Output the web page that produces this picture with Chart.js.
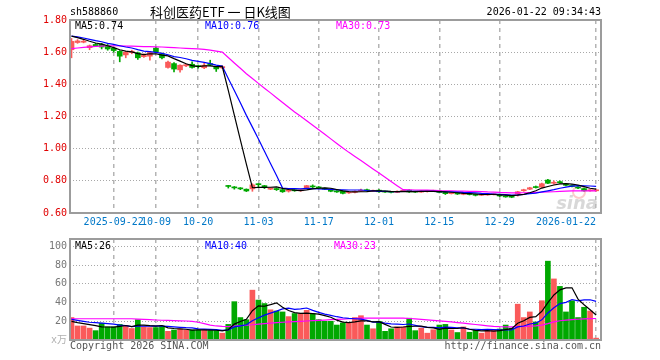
<!DOCTYPE html>
<html>
<head>
<meta charset="utf-8">
<script src="https://cdn.jsdelivr.net/npm/chart.js@4.4.1/dist/chart.umd.min.js"></script>
<style>
    body { margin: 0; background: #fff; width: 660px; height: 360px; position: relative; overflow: hidden;
           font-family: 'DejaVu Sans Mono', 'Noto Sans CJK SC', monospace; font-size: 10px; color: #000; }
    canvas { position: absolute; left: 0; }
    .t { position: absolute; white-space: nowrap; line-height: 12px; z-index: 2; }
</style>
</head>
<body>
<div class="t" style="left:70px;top:6px">sh588860</div>
<div class="t" style="left:150px;top:4px;font-family:'Noto Sans CJK SC';font-size:13px;line-height:16px">科创医药ETF 一 日K线图</div>
<div class="t" style="right:59px;top:6px">2026-01-22 09:34:43</div>

<div class="t" style="left:75px;top:20px;color:#000">MA5:0.74</div>
<div class="t" style="left:205px;top:20px;color:#0000ff">MA10:0.76</div>
<div class="t" style="left:336px;top:20px;color:#ff00ff">MA30:0.73</div>

<div class="t" style="left:75px;top:240px;color:#000">MA5:26</div>
<div class="t" style="left:205px;top:240px;color:#0000ff">MA10:40</div>
<div class="t" style="left:334px;top:240px;color:#ff00ff">MA30:23</div>

<div class="t" style="left:70px;top:340px;color:#555">Copyright 2026 SINA.COM</div>
<div class="t" style="right:59px;top:340px;color:#555">http://finance.sina.com.cn</div>

<canvas id="chartK" width="660" height="230" style="top:0"></canvas>
<canvas id="chartVol" width="660" height="130" style="top:230px"></canvas>

<script>
// Datos diarios (indice 0 = primera vela)
const open = [
    1.615, 1.660, 1.662, 1.628, 1.648, 1.650, 1.640, 1.625, 1.605, 1.583,
    1.598, 1.595, 1.572, 1.575, 1.625, 1.590, 1.505, 1.529, 1.490, 1.515,
    1.525, 1.515, 1.503, 1.529, 1.509, 1.502, 0.770, 0.762, 0.756, 0.748,
    0.750, 0.780, 0.770, 0.748, 0.752, 0.745, 0.736, 0.742, 0.738, 0.755,
    0.768, 0.762, 0.752, 0.748, 0.738, 0.735, 0.725, 0.728, 0.735, 0.745,
    0.735, 0.742, 0.735, 0.732, 0.728, 0.735, 0.742, 0.733, 0.730, 0.733,
    0.735, 0.738, 0.728, 0.720, 0.725, 0.716, 0.720, 0.716, 0.710, 0.712,
    0.714, 0.716, 0.706, 0.702, 0.718, 0.738, 0.748, 0.762, 0.760, 0.805,
    0.785, 0.795, 0.780, 0.770, 0.762, 0.752, 0.738, 0.738
];
const high = [
    1.685, 1.678, 1.676, 1.645, 1.655, 1.655, 1.648, 1.630, 1.610, 1.605,
    1.612, 1.600, 1.590, 1.605, 1.632, 1.595, 1.545, 1.535, 1.522, 1.528,
    1.540, 1.520, 1.530, 1.550, 1.512, 1.515, 0.772, 0.765, 0.758, 0.750,
    0.782, 0.782, 0.772, 0.758, 0.755, 0.747, 0.748, 0.745, 0.748, 0.772,
    0.775, 0.765, 0.755, 0.750, 0.740, 0.738, 0.732, 0.738, 0.748, 0.748,
    0.742, 0.745, 0.737, 0.735, 0.738, 0.745, 0.745, 0.736, 0.738, 0.738,
    0.742, 0.740, 0.730, 0.728, 0.727, 0.724, 0.722, 0.718, 0.716, 0.718,
    0.720, 0.718, 0.708, 0.705, 0.735, 0.748, 0.760, 0.768, 0.786, 0.810,
    0.800, 0.800, 0.785, 0.775, 0.765, 0.755, 0.745, 0.745
];
const low = [
    1.565, 1.655, 1.658, 1.615, 1.635, 1.620, 1.612, 1.600, 1.540, 1.565,
    1.590, 1.555, 1.568, 1.550, 1.598, 1.558, 1.500, 1.477, 1.475, 1.510,
    1.500, 1.500, 1.498, 1.515, 1.480, 1.498, 0.755, 0.748, 0.745, 0.733,
    0.735, 0.760, 0.752, 0.745, 0.740, 0.728, 0.730, 0.735, 0.735, 0.752,
    0.758, 0.752, 0.745, 0.732, 0.728, 0.718, 0.722, 0.725, 0.733, 0.735,
    0.732, 0.728, 0.728, 0.725, 0.726, 0.733, 0.728, 0.728, 0.728, 0.730,
    0.733, 0.725, 0.715, 0.718, 0.715, 0.713, 0.712, 0.706, 0.708, 0.710,
    0.712, 0.702, 0.698, 0.695, 0.705, 0.735, 0.745, 0.755, 0.758, 0.782,
    0.780, 0.785, 0.768, 0.762, 0.752, 0.735, 0.735, 0.735
];
const close = [
    1.667, 1.670, 1.668, 1.640, 1.640, 1.632, 1.620, 1.610, 1.575, 1.600,
    1.606, 1.565, 1.580, 1.598, 1.602, 1.565, 1.538, 1.495, 1.519, 1.522,
    1.505, 1.510, 1.519, 1.519, 1.496, 1.510, 0.765, 0.756, 0.750, 0.737,
    0.775, 0.776, 0.758, 0.755, 0.745, 0.732, 0.740, 0.738, 0.742, 0.770,
    0.762, 0.756, 0.748, 0.735, 0.731, 0.722, 0.730, 0.735, 0.742, 0.738,
    0.740, 0.732, 0.730, 0.728, 0.735, 0.742, 0.731, 0.730, 0.735, 0.736,
    0.738, 0.728, 0.720, 0.725, 0.718, 0.720, 0.715, 0.710, 0.714, 0.716,
    0.718, 0.706, 0.700, 0.698, 0.732, 0.745, 0.757, 0.758, 0.782, 0.785,
    0.790, 0.788, 0.772, 0.765, 0.755, 0.738, 0.742, 0.741
];
const ma5 = [
    1.700, 1.690, 1.680, 1.668, 1.657, 1.650, 1.640, 1.628, 1.615, 1.607,
    1.602, 1.591, 1.585, 1.590, 1.590, 1.582, 1.577, 1.560, 1.544, 1.528,
    1.516, 1.510, 1.515, 1.515, 1.510, 1.511, 1.362, 1.209, 1.055, 0.904,
    0.757, 0.759, 0.759, 0.760, 0.762, 0.753, 0.746, 0.742, 0.739, 0.744,
    0.750, 0.754, 0.756, 0.754, 0.746, 0.738, 0.733, 0.731, 0.732, 0.733,
    0.737, 0.737, 0.736, 0.734, 0.733, 0.733, 0.733, 0.733, 0.735, 0.735,
    0.734, 0.733, 0.731, 0.729, 0.726, 0.722, 0.720, 0.718, 0.715, 0.715,
    0.715, 0.713, 0.711, 0.708, 0.711, 0.716, 0.726, 0.738, 0.755, 0.765,
    0.774, 0.781, 0.783, 0.780, 0.774, 0.764, 0.754, 0.748
];
const ma10 = [
    1.700, 1.695, 1.688, 1.680, 1.672, 1.665, 1.655, 1.648, 1.640, 1.632,
    1.626, 1.616, 1.607, 1.603, 1.599, 1.592, 1.584, 1.572, 1.567, 1.559,
    1.549, 1.543, 1.537, 1.529, 1.519, 1.513, 1.436, 1.362, 1.285, 1.207,
    1.134, 1.060, 0.984, 0.908, 0.833, 0.755, 0.752, 0.751, 0.750, 0.753,
    0.752, 0.750, 0.749, 0.747, 0.745, 0.744, 0.743, 0.743, 0.743, 0.740,
    0.738, 0.735, 0.734, 0.733, 0.733, 0.735, 0.735, 0.735, 0.734, 0.734,
    0.734, 0.733, 0.732, 0.732, 0.730, 0.728, 0.727, 0.725, 0.722, 0.720,
    0.718, 0.716, 0.714, 0.712, 0.713, 0.715, 0.720, 0.724, 0.731, 0.738,
    0.745, 0.754, 0.761, 0.767, 0.770, 0.769, 0.768, 0.766
];
const ma30 = [
    1.622, 1.626, 1.630, 1.633, 1.636, 1.638, 1.640, 1.640, 1.639, 1.638,
    1.637, 1.636, 1.635, 1.634, 1.633, 1.632, 1.630, 1.628, 1.626, 1.624,
    1.622, 1.620, 1.617, 1.613, 1.607, 1.600, 1.567, 1.533, 1.500, 1.466,
    1.436, 1.406, 1.376, 1.347, 1.317, 1.287, 1.257, 1.228, 1.201, 1.173,
    1.145, 1.118, 1.090, 1.061, 1.032, 1.004, 0.977, 0.952, 0.926, 0.900,
    0.874, 0.848, 0.822, 0.796, 0.770, 0.745, 0.744, 0.743, 0.742, 0.742,
    0.741, 0.739, 0.738, 0.737, 0.736, 0.736, 0.735, 0.734, 0.733, 0.731,
    0.730, 0.728, 0.727, 0.725, 0.725, 0.726, 0.727, 0.728, 0.729, 0.731,
    0.732, 0.734, 0.736, 0.737, 0.738, 0.738, 0.738, 0.738
];

// Volumen (x万)
const vol = [
    24, 15, 15, 12.7, 10, 18, 14, 14, 16.7, 15,
    12.3, 21.7, 14, 13.3, 13.3, 15, 9.3, 10.7, 11.7, 10.7,
    10.7, 10.7, 10.7, 10, 10, 7.3, 16.7, 41, 24, 21.7,
    53.3, 42.7, 39, 32.3, 31, 30, 25, 28.3, 28.3, 31.7,
    28.3, 21.7, 20, 20, 16, 18.3, 18.3, 24, 26, 16,
    12, 20, 9.3, 12, 14, 14, 23.3, 10, 12.7, 7.3,
    11, 16, 16.7, 10.7, 8, 14, 8.3, 10.7, 7.3, 10,
    10.7, 11.7, 16, 12.7, 38.3, 24, 30, 19.3, 42, 84.3,
    65.3, 57.3, 30, 42, 24, 35, 31, 2
];
const vma5 = [
    20, 18.5, 17.5, 16.5, 15.3, 14.1, 13.9, 13.7, 14.5, 15.5,
    14.4, 15.9, 15.9, 15.3, 14.9, 15.5, 13.0, 12.3, 12.0, 11.5,
    10.6, 10.9, 10.9, 10.6, 10.4, 9.7, 10.9, 17.0, 19.8, 22.1,
    31.3, 36.5, 36.1, 37.8, 39.7, 35.0, 31.5, 29.3, 28.5, 28.7,
    28.3, 27.7, 26.0, 24.3, 21.2, 19.2, 18.5, 19.3, 20.5, 20.5,
    19.3, 19.6, 16.7, 13.9, 13.5, 13.9, 14.5, 14.7, 14.8, 13.5,
    12.9, 11.4, 12.7, 12.3, 12.5, 13.1, 11.5, 10.3, 9.7, 10.1,
    9.4, 10.1, 11.1, 12.2, 17.9, 20.5, 24.2, 24.9, 30.7, 39.9,
    48.2, 53.6, 55.8, 55.8, 43.7, 37.7, 32.4, 26.8
];
const vma10 = [
    22, 21, 20, 19, 18.5, 18, 17.5, 17, 16, 15.4,
    14.3, 14.9, 14.8, 14.9, 15.2, 14.9, 14.5, 14.1, 13.6, 13.2,
    13.0, 11.9, 11.6, 11.3, 11.0, 10.2, 10.9, 14.0, 15.2, 16.3,
    20.5, 23.7, 26.6, 28.8, 30.9, 33.2, 34.0, 32.7, 33.2, 34.2,
    31.7, 29.6, 27.7, 26.4, 24.9, 23.8, 23.1, 22.7, 22.4, 20.9,
    19.2, 19.1, 18.0, 17.2, 17.0, 16.6, 17.1, 15.7, 14.3, 13.5,
    13.4, 13.0, 13.7, 13.6, 13.0, 13.0, 11.5, 11.5, 11.0, 11.3,
    11.2, 10.8, 10.7, 10.9, 14.0, 15.0, 17.1, 18.0, 21.5, 28.9,
    34.4, 38.9, 40.3, 43.3, 41.8, 42.9, 43.0, 41.3
];
const vma30 = [
    22.7, 22.7, 22.7, 22.7, 22.7, 22.7, 22.7, 22.7, 22.7, 22.7,
    22.7, 22.3, 22.0, 21.7, 21.4, 21.1, 20.9, 20.7, 20.5, 20.3,
    20.0, 19.0, 17.5, 16.0, 15.0, 14.5, 14.3, 14.8, 15.3, 15.8,
    16.3, 17.0, 17.5, 18.0, 18.5, 19.0, 19.3, 19.7, 20.0, 20.3,
    20.7, 21.0, 21.3, 21.7, 22.0, 22.3, 22.7, 23.0, 23.3, 23.3,
    23.3, 23.3, 23.3, 23.3, 23.3, 23.3, 23.0, 22.5, 22.0, 21.5,
    21.0, 20.5, 20.0, 19.3, 18.6, 18.0, 17.3, 16.6, 15.9, 15.2,
    14.6, 14.2, 14.0, 14.0, 14.2, 14.5, 14.8, 15.2, 16.0, 17.5,
    19.3, 20.6, 21.3, 21.8, 22.2, 22.5, 22.8, 23.0
];

// Ejes
const tickIdx = [7, 14, 21, 31, 41, 51, 61, 71, 87];
const tickLabels = ['2025-09-22', '10-09', '10-20', '11-03', '11-17', '12-01', '12-15', '12-29', '2026-01-22'];
const priceTicks = [0.6, 0.8, 1.0, 1.2, 1.4, 1.6, 1.8];
const volTicks = [0, 20, 40, 60, 80, 100];

const X_MIN = -0.25;
const X_MAX = 87.81;
const RED = '#fa5a5a';
const GREEN = '#00a800';
const FONT = { family: "'DejaVu Sans Mono', 'Noto Sans CJK SC', monospace", size: 10 };

const colores = close.map((c, i) => c >= open[i] ? RED : GREEN);
const pts = arr => arr.map((v, i) => ({ x: i, y: v }));

// marco gris alrededor del area
const marco = {
    id: 'marco',
    afterDatasetsDraw(chart) {
        const { ctx, chartArea: a } = chart;
        ctx.save();
        ctx.strokeStyle = '#9c9c9c';
        ctx.lineWidth = 2;
        ctx.strokeRect(a.left, a.top, a.right - a.left, a.bottom - a.top);
        ctx.restore();
    }
};

// marca de agua "sina"
const marcaAgua = {
    id: 'marcaAgua',
    beforeDatasetsDraw(chart) {
        const { ctx, chartArea: a } = chart;
        ctx.save();
        ctx.strokeStyle = 'rgba(250,160,160,0.55)';
        ctx.lineWidth = 2;
        ctx.beginPath();
        ctx.arc(a.right - 22, a.bottom - 21, 6, 0, Math.PI * 2);
        ctx.stroke();
        ctx.fillStyle = 'rgba(190,190,190,0.6)';
        ctx.font = "italic bold 18px 'DejaVu Sans'";
        ctx.textAlign = 'right';
        ctx.textBaseline = 'alphabetic';
        ctx.fillText('sina', a.right - 3, a.bottom - 4);
        ctx.restore();
    }
};

function ejeX(conEtiquetas) {
    return {
        type: 'linear',
        min: X_MIN,
        max: X_MAX,
        offset: false,
        afterBuildTicks: s => { s.ticks = [{ value: X_MIN }].concat(tickIdx.map(v => ({ value: v }))); },
        afterFit: s => { s.height = conEtiquetas ? 17 : 20; },
        grid: {
            color: c => (c.tick && c.tick.value < 0) ? 'rgba(0,0,0,0)' : '#b4b4b4',
            lineWidth: 1.5,
            drawTicks: false,
            offset: false
        },
        border: { display: false, dash: [4, 4] },
        ticks: {
            display: conEtiquetas,
            autoSkip: false,
            maxRotation: 0,
            align: 'inner',
            padding: 3,
            color: '#0078c8',
            font: FONT,
            callback: v => {
                const k = tickIdx.indexOf(v);
                return k < 0 ? '' : tickLabels[k];
            }
        }
    };
}

function linea(data, color) {
    return {
        type: 'line',
        data: pts(data),
        borderColor: color,
        borderWidth: 1.2,
        pointRadius: 0,
        tension: 0,
        order: 0
    };
}

const ctxK = document.getElementById('chartK').getContext('2d');
new Chart(ctxK, {
    type: 'bar',
    data: {
        datasets: [
            linea(ma5, '#000000'),
            linea(ma10, '#0000ff'),
            linea(ma30, '#ff00ff'),
            {
                data: open.map((o, i) => ({ x: i, y: [o, close[i]] })),
                backgroundColor: colores,
                barThickness: 5,
                minBarLength: 1,
                grouped: false,
                order: 1
            },
            {
                data: low.map((l, i) => ({ x: i, y: [l, high[i]] })),
                backgroundColor: colores,
                barThickness: 1,
                grouped: false,
                order: 2
            }
        ]
    },
    options: {
        responsive: false,
        devicePixelRatio: 1,
        animation: false,
        events: [],
        layout: { padding: { left: 0, right: 59, top: 20, bottom: 0 } },
        plugins: { legend: { display: false }, tooltip: { enabled: false } },
        scales: {
            x: ejeX(true),
            y: {
                min: 0.6,
                max: 1.8,
                afterBuildTicks: s => { s.ticks = priceTicks.map(v => ({ value: v })); },
                afterFit: s => { s.width = 70; },
                grid: {
                    color: c => (c.tick && (c.tick.value <= 0.6 || c.tick.value >= 1.8)) ? 'rgba(0,0,0,0)' : '#a8a8a8',
                    lineWidth: 1,
                    drawTicks: false
                },
                border: { display: false, dash: [1, 2] },
                ticks: {
                    padding: 3,
                    color: '#e00000',
                    font: FONT,
                    callback: v => v.toFixed(2)
                }
            }
        }
    },
    plugins: [marcaAgua, marco]
});

const ctxVol = document.getElementById('chartVol').getContext('2d');
new Chart(ctxVol, {
    type: 'bar',
    data: {
        datasets: [
            linea(vma5, '#000000'),
            linea(vma10, '#0000ff'),
            linea(vma30, '#ff00ff'),
            {
                data: pts(vol),
                backgroundColor: colores,
                barThickness: 5,
                grouped: false,
                order: 1
            }
        ]
    },
    options: {
        responsive: false,
        devicePixelRatio: 1,
        animation: false,
        events: [],
        layout: { padding: { left: 0, right: 59, top: 2, bottom: 0 } },
        plugins: { legend: { display: false }, tooltip: { enabled: false } },
        scales: {
            x: ejeX(false),
            y: {
                min: 0,
                max: 108,
                afterBuildTicks: s => { s.ticks = volTicks.map(v => ({ value: v })); },
                afterFit: s => { s.width = 70; },
                grid: {
                    color: c => (c.tick && c.tick.value === 0) ? 'rgba(0,0,0,0)' : '#a8a8a8',
                    lineWidth: 1,
                    drawTicks: false
                },
                border: { display: false, dash: [1, 2] },
                ticks: {
                    padding: 3,
                    color: c => (c.tick && c.tick.value === 0) ? '#b0b0b0' : '#777777',
                    font: FONT,
                    callback: v => v === 0 ? 'x万' : String(v)
                }
            }
        }
    },
    plugins: [marco]
});
</script>
</body>
</html>
